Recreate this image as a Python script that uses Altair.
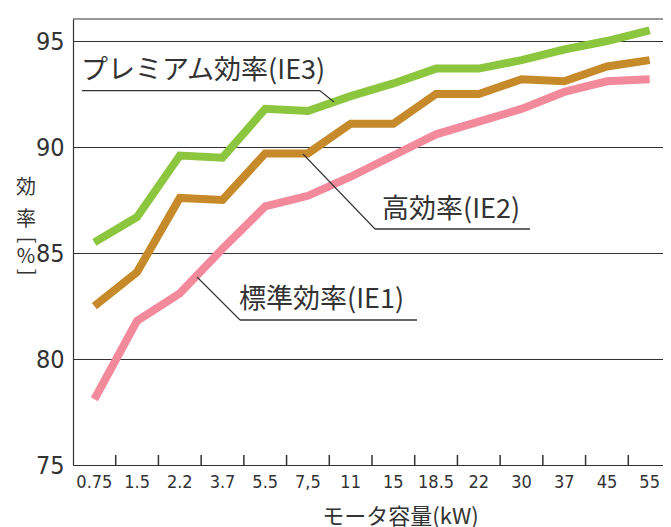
import altair as alt
import pandas as pd

categories = ["0.75", "1.5", "2.2", "3.7", "5.5", "7,5", "11", "15", "18.5", "22", "30", "37", "45", "55"]
ie3 = [85.5, 86.7, 89.6, 89.5, 91.8, 91.7, 92.4, 93.0, 93.7, 93.7, 94.1, 94.6, 95.0, 95.5]
ie2 = [82.5, 84.1, 87.6, 87.5, 89.7, 89.7, 91.1, 91.1, 92.5, 92.5, 93.2, 93.1, 93.8, 94.1]
ie1 = [78.1, 81.8, 83.1, 85.2, 87.2, 87.7, 88.6, 89.6, 90.6, 91.2, 91.8, 92.6, 93.1, 93.2]
series_names = ["IE3", "IE2", "IE1"]
series_labels = ["プレミアム効率(IE3)", "高効率(IE2)", "標準効率(IE1)"]
colors = ["#8cc63f", "#c78a2a", "#f38a9c"]
y_ticks = [75, 80, 85, 90, 95]
x_title = "モータ容量(kW)"
y_title_chars = ["効", "率", "[", "%", "]"]
y_title_angles = [0, 0, 90, 0, 90]

rows = []
for name, vals in zip(series_names, [ie3, ie2, ie1]):
    for i, (c, v) in enumerate(zip(categories, vals)):
        rows.append({"kw": c, "eff": v, "series": name, "order": i})
df = pd.DataFrame(rows)

W, H = 590, 446
XR = 598  # band range runs slightly past the visible right edge, as in the original
NARROW = "Liberation Sans Narrow, DejaVu Sans Condensed, Noto Sans"
JP = "Noto Sans CJK JP"
INK = "#333333"

xscale = alt.Scale(type="band", domain=categories, paddingInner=0, paddingOuter=0, range=[0, XR])
yscale = alt.Scale(domain=[75, 96.04], nice=False, zero=False)

lines = alt.Chart(df).mark_line(strokeWidth=8, strokeJoin="miter").encode(
    x=alt.X("kw:N", scale=xscale, sort=categories, bandPosition=0.5,
            axis=alt.Axis(title=x_title, labelAngle=0, ticks=False, domain=True,
                          domainColor=INK, domainWidth=1.2,
                          labelFont=NARROW, labelFontSize=18, labelColor=INK, labelPadding=8,
                          titleFont=JP, titleFontSize=22, titleFontWeight="normal", titleColor=INK,
                          titleX=327, titleY=51, titleBaseline="middle", titleAlign="center")),
    y=alt.Y("eff:Q", scale=yscale,
            axis=alt.Axis(title=None, values=y_ticks, ticks=False, domain=True,
                          domainColor=INK, domainWidth=1.2, grid=True,
                          gridColor=INK, gridWidth=1.2, gridOpacity=1,
                          labelFont=NARROW, labelFontSize=25, labelColor=INK, labelPadding=9)),
    color=alt.Color("series:N", scale=alt.Scale(domain=series_names, range=colors), legend=None),
    order="order:Q",
)

ticks = alt.Chart(pd.DataFrame({"kw": categories[1:]})).mark_rule(color=INK, strokeWidth=1.5).encode(
    x=alt.X("kw:N", scale=xscale, sort=categories, bandPosition=0),
    y=alt.value(H - 10), y2=alt.value(H),
)

top_line = alt.Chart(pd.DataFrame({"t": [0]})).mark_rule(color=INK, strokeWidth=1.2).encode(
    x=alt.value(0), x2=alt.value(XR), y=alt.value(0), y2=alt.value(0))

def label(text, x, y, ux1, ux2, uy, lx, ly):
    t = alt.Chart(pd.DataFrame({"t": [text]})).mark_text(
        align="left", baseline="middle", font=JP, fontSize=27, color=INK
    ).encode(text="t:N", x=alt.value(x), y=alt.value(y))
    u = alt.Chart(pd.DataFrame({"t": [text]})).mark_rule(color=INK, strokeWidth=1.3).encode(
        x=alt.value(ux1), x2=alt.value(ux2), y=alt.value(uy), y2=alt.value(uy))
    l = alt.Chart(pd.DataFrame({"t": [text]})).mark_rule(color=INK, strokeWidth=1.1).encode(
        x=alt.value(lx[0]), x2=alt.value(lx[1]), y=alt.value(ly[0]), y2=alt.value(ly[1]))
    return [t, u, l]

ann = []
ann += label(series_labels[0], 8, 52, 9, 247, 71.7, (247, 261), (71.7, 83))
ann += label(series_labels[1], 309, 191, 302, 457, 210, (302, 230), (210, 135))
ann += label(series_labels[2], 166, 281, 167, 344, 301, (167, 124), (301, 258))

ytitle_y = [169, 201, 221, 238, 253]
ytitle = []
for ch, yy, ang in zip(y_title_chars, ytitle_y, y_title_angles):
    ytitle.append(alt.Chart(pd.DataFrame({"t": [ch]})).mark_text(
        align="center", baseline="middle", font=JP, fontSize=20, color=INK, angle=ang
    ).encode(text="t:N", x=alt.value(-47), y=alt.value(yy)))

chart = alt.layer(lines, ticks, top_line, *ann, *ytitle).properties(
    width=W, height=H,
    padding={"left": 65, "top": 11, "right": 0, "bottom": 70},
    autosize=alt.AutoSizeParams(type="none"),
).configure_view(stroke=None)

chart.save("out.html", embed_options={"renderer": "svg", "actions": False})
